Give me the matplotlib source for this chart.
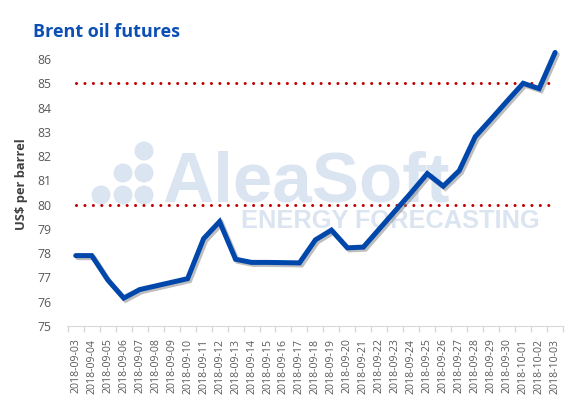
import numpy as np
import matplotlib
matplotlib.use("Agg")
import matplotlib.pyplot as plt
import matplotlib.patheffects as pe
from matplotlib.patches import Circle

# Data
dates = ["2018-09-03", "2018-09-04", "2018-09-05", "2018-09-06", "2018-09-07",
         "2018-09-08", "2018-09-09", "2018-09-10", "2018-09-11", "2018-09-12",
         "2018-09-13", "2018-09-14", "2018-09-15", "2018-09-16", "2018-09-17",
         "2018-09-18", "2018-09-19", "2018-09-20", "2018-09-21", "2018-09-22",
         "2018-09-23", "2018-09-24", "2018-09-25", "2018-09-26", "2018-09-27",
         "2018-09-28", "2018-09-29", "2018-09-30", "2018-10-01", "2018-10-02",
         "2018-10-03"]
prices = [77.9, 77.9, 76.9, 76.15, 76.5,
          76.65, 76.8, 76.95, 78.6, 79.3,
          77.75, 77.62, 77.62, 77.61, 77.6,
          78.55, 78.95, 78.22, 78.25, 79.0,
          79.75, 80.5, 81.28, 80.76, 81.4,
          82.8, 83.53, 84.27, 85.0, 84.78,
          86.27]
ref_levels = [85, 80]
yticks = list(range(75, 87))

fig = plt.figure(figsize=(5.74, 4.0), dpi=100)
ax = fig.add_axes([0.1167, 0.185, 0.8643, 0.6675], zorder=2)

# watermark (logo dots + text), positions in pixels from top-left
wm = "#dbe4f1"
fig.text(0.283, 0.495, "AleaSoft", fontsize=51, fontweight="bold", color=wm,
         family="Liberation Sans", ha="left", va="baseline", zorder=0)
fig.text(0.42, 0.447, "ENERGY FORECASTING", fontsize=18.3, fontweight="bold", color=wm,
         family="Liberation Sans", ha="left", va="center", zorder=0)
dot_xy = [(144, 151), (123, 173), (144, 173), (101, 195), (123, 195), (144, 195)]
for (px, py) in dot_xy:
    fig.patches.append(Circle((px / 100, (400 - py) / 100), 0.088, color=wm,
                              transform=fig.dpi_scale_trans, zorder=0))

x = np.arange(len(dates))
ax.patch.set_alpha(0)
ax.plot(x, prices, color="#0047ab", lw=3.6, solid_joinstyle="miter", solid_capstyle="round",
        clip_on=False,
        path_effects=[pe.SimpleLineShadow(offset=(1.5, -1.5), shadow_color="#7f7f7f", alpha=0.5),
                      pe.Normal()], zorder=3)
for lvl in ref_levels:
    ax.plot([0, len(dates) - 1], [lvl, lvl], color="#c00000", lw=2.2,
            linestyle=(0, (0.01, 2.75)), dash_capstyle="round", zorder=2)

ax.set_xlim(-0.55, len(dates) - 0.5)
ax.set_ylim(75, 86)
ax.set_yticks(yticks)
ax.set_xticks(x)
ax.set_xticklabels(dates, rotation=90, fontsize=7.6, color="#595959", family="Open Sans")
ax.set_xticks(np.arange(-0.5, len(dates), 1.0), minor=True)
ax.tick_params(axis="x", which="major", length=0, pad=9)
ax.tick_params(axis="x", which="minor", length=4, color="#d9d9d9", width=1)
ax.tick_params(axis="y", length=0, labelsize=8.8, labelcolor="#595959", pad=11)
for lab in ax.get_yticklabels():
    lab.set_family("Open Sans")

for s in ["top", "right", "left"]:
    ax.spines[s].set_visible(False)
ax.spines["bottom"].set_color("#d9d9d9")

ax.set_ylabel("US$ per barrel", fontsize=9.3, fontweight="bold", color="#404040",
              family="Open Sans", va="center")
ax.yaxis.set_label_coords(-0.091, 0.53)
fig.text(0.057, 0.92, "Brent oil futures", fontsize=13, fontweight="bold",
         color="#0b4fb5", family="Open Sans", ha="left", va="center")

fig.savefig("out.png", dpi=100)
